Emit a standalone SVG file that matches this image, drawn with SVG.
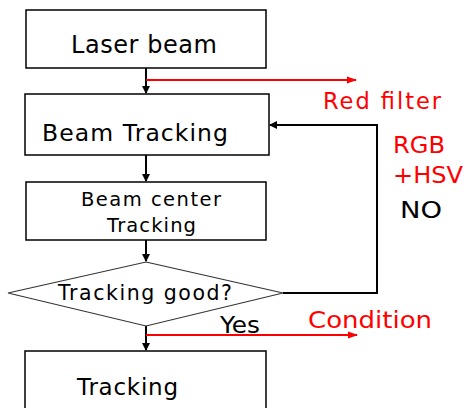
<svg xmlns="http://www.w3.org/2000/svg" width="465" height="408" viewBox="0 0 465 408">
<defs>
<marker id="ab" markerWidth="8" markerHeight="8" refX="7" refY="4" orient="auto" markerUnits="userSpaceOnUse"><path d="M0,0 L8,4 L0,8 Z" fill="#000"/></marker>
<marker id="ar" markerWidth="10" markerHeight="8" refX="9" refY="4" orient="auto" markerUnits="userSpaceOnUse"><path d="M0,0.5 L10,4 L0,7.5 Z" fill="#ff0000"/></marker>
<style>
.box{fill:#fff;stroke:#000;stroke-width:1.5}
.dia{fill:#fff;stroke:#333;stroke-width:1.2}
.t{font-family:"DejaVu Sans","Noto Sans",sans-serif;fill:#000}
.r{font-family:"DejaVu Sans","Noto Sans",sans-serif;fill:#ff0000}
.c{fill:none;stroke:#000;stroke-width:2}
.cr{fill:none;stroke:#ff0000;stroke-width:2}
</style>
</defs>
<rect width="465" height="408" fill="#fff"/>
<g id="connectors">
<line class="c" x1="146" y1="68" x2="146" y2="93" marker-end="url(#ab)"/>
<line class="cr" x1="146" y1="80" x2="356" y2="80" marker-end="url(#ar)"/>
<line class="c" x1="146" y1="155" x2="146" y2="181" marker-end="url(#ab)"/>
<line class="c" x1="146" y1="240" x2="146" y2="261" marker-end="url(#ab)"/>
<polyline class="c" points="283,293 377,293 377,125 270,125" marker-end="url(#ab)"/>
<line class="c" x1="146" y1="326" x2="146" y2="350" marker-end="url(#ab)"/>
<line class="cr" x1="146" y1="335" x2="357" y2="335" marker-end="url(#ar)"/>
</g>
<g id="n1"><rect class="box" x="26" y="10" width="240" height="58"/><text class="t" x="71" y="53" font-size="24" textLength="146" lengthAdjust="spacing">Laser beam</text></g>
<g id="n2"><rect class="box" x="25" y="94" width="244" height="61"/><text class="t" x="42" y="141" font-size="23.5" textLength="186" lengthAdjust="spacing">Beam Tracking</text></g>
<g id="n3"><rect class="box" x="26" y="182" width="240" height="58"/><text class="t" x="81" y="206" font-size="19.5" textLength="140" lengthAdjust="spacing">Beam center</text><text class="t" x="107" y="232" font-size="19.5" textLength="89" lengthAdjust="spacing">Tracking</text></g>
<g id="n4"><polygon class="dia" points="146,262 283,293 146,326 8,293"/><text class="t" x="58" y="300" font-size="20.5" textLength="174" lengthAdjust="spacing">Tracking good?</text></g>
<g id="n5"><rect class="box" x="25" y="351" width="241" height="70"/><text class="t" x="77" y="395" font-size="23" textLength="101" lengthAdjust="spacing">Tracking</text></g>
<g id="labels">
<text class="r" x="323" y="109" font-size="22.5" textLength="118" lengthAdjust="spacing">Red filter</text>
<text class="r" x="393" y="153" font-size="22.5" textLength="52" lengthAdjust="spacingAndGlyphs">RGB</text>
<text class="r" x="393" y="183" font-size="22.5" textLength="70" lengthAdjust="spacingAndGlyphs">+HSV</text>
<text class="t" x="400" y="218" font-size="22.5" textLength="42" lengthAdjust="spacingAndGlyphs">NO</text>
<text class="t" x="220" y="333" font-size="22.5" textLength="40" lengthAdjust="spacingAndGlyphs">Yes</text>
<text class="r" x="308" y="328" font-size="22.5" textLength="124" lengthAdjust="spacingAndGlyphs">Condition</text>
</g>
</svg>
